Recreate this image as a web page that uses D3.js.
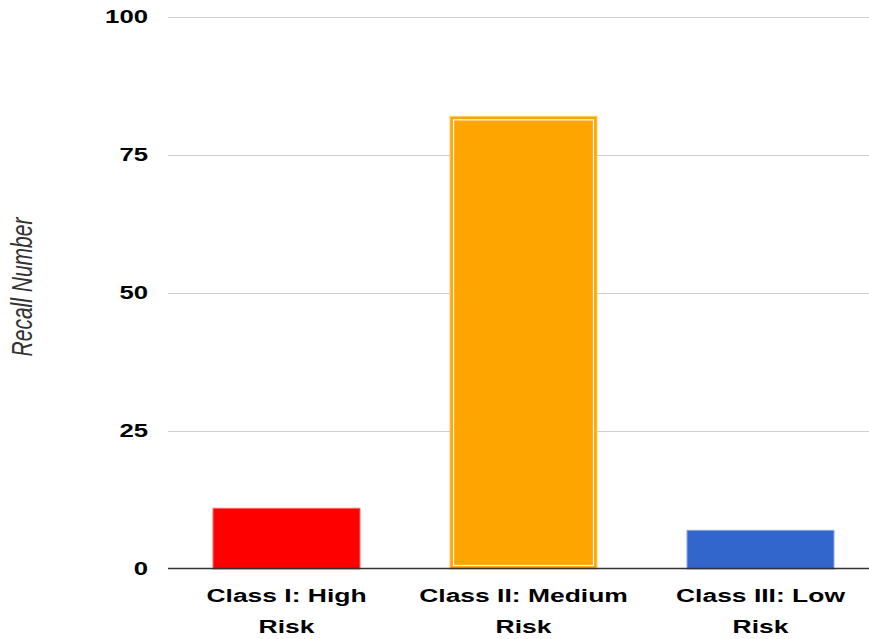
<!DOCTYPE html>
<html>
<head>
<meta charset="utf-8">
<script src="https://cdn.jsdelivr.net/npm/d3@7"></script>
<style>
  html, body { margin: 0; padding: 0; background: #fff; }
  svg { display: block; }
  text { font-family: Arial, "Liberation Sans", sans-serif; }
</style>
</head>
<body>
<svg id="chart" width="869" height="639"></svg>
<script>
// Recalls by device risk class
const categories = ["Class I: High Risk", "Class II: Medium Risk", "Class III: Low Risk"];
const categoryLines = [["Class I: High", "Risk"], ["Class II: Medium", "Risk"], ["Class III: Low", "Risk"]];
const recallCounts = [11, 82, 7];
const barColors = ["#ff0000", "#ffa500", "#3366cc"];
const yTicks = [0, 25, 50, 75, 100];
const highlighted = 1;

const W = 869, H = 639;
const plot = { left: 168, right: 879, top: 17, bottom: 569 };
const stretch = 1.43; // labels are drawn wide

const svg = d3.select("#chart");

const x = d3.scaleBand().domain(categories).range([plot.left, plot.right]).paddingInner(0.38).paddingOuter(0.19);
const y = d3.scaleLinear().domain([0, 100]).range([plot.bottom, plot.top]);

// gridlines
svg.append("g").selectAll("line").data(yTicks.filter(d => d > 0)).join("line")
  .attr("x1", plot.left).attr("x2", W)
  .attr("y1", d => Math.round(y(d)) + 0.5).attr("y2", d => Math.round(y(d)) + 0.5)
  .attr("stroke", "#d0d0d0").attr("stroke-width", 1);

// y tick labels
svg.append("g").selectAll("text").data(yTicks).join("text")
  .attr("transform", d => `translate(148,${y(d)}) scale(${stretch},1)`)
  .attr("dy", "0.36em")
  .attr("text-anchor", "end")
  .attr("font-size", 18).attr("font-weight", "bold").attr("fill", "#000")
  .text(d => d);

// bars
const bars = svg.append("g").selectAll("g").data(categories).join("g");
bars.append("rect")
  .attr("x", d => x(d)).attr("width", x.bandwidth())
  .attr("y", (d, i) => y(recallCounts[i]))
  .attr("height", (d, i) => y(0) - y(recallCounts[i]))
  .attr("fill", (d, i) => barColors[i])
  .attr("stroke", (d, i) => d3.interpolateRgb(barColors[i], "#fff")(0.4))
  .attr("stroke-width", 1);

// highlight outline on the selected bar
bars.filter((d, i) => i === highlighted).append("rect")
  .attr("x", d => x(d) + 3.5).attr("width", x.bandwidth() - 7)
  .attr("y", (d, i) => y(recallCounts[highlighted]) + 3.5)
  .attr("height", y(0) - y(recallCounts[highlighted]) - 7)
  .attr("fill", "none").attr("stroke", "#fff").attr("stroke-width", 1.2);

// baseline
svg.append("line")
  .attr("x1", plot.left).attr("x2", W)
  .attr("y1", Math.round(y(0)) - 0.5).attr("y2", Math.round(y(0)) - 0.5)
  .attr("stroke", "#333").attr("stroke-width", 1.5);

// category labels
const labels = svg.append("g").selectAll("g").data(categories).join("g");
labels.each(function(d, i) {
  const g = d3.select(this);
  categoryLines[i].forEach((line, k) => {
    g.append("text")
      .attr("transform", `translate(${x(d) + x.bandwidth() / 2},${602 + k * 31}) scale(${stretch},1)`)
      .attr("text-anchor", "middle")
      .attr("font-size", 18.5).attr("font-weight", "bold").attr("fill", "#000")
      .text(line);
  });
});

// y axis title
svg.append("text")
  .attr("transform", `translate(32,287) scale(${stretch},1) rotate(-90)`)
  .attr("text-anchor", "middle")
  .attr("font-size", 21).attr("font-style", "italic").attr("fill", "#333")
  .text("Recall Number");
</script>
</body>
</html>
